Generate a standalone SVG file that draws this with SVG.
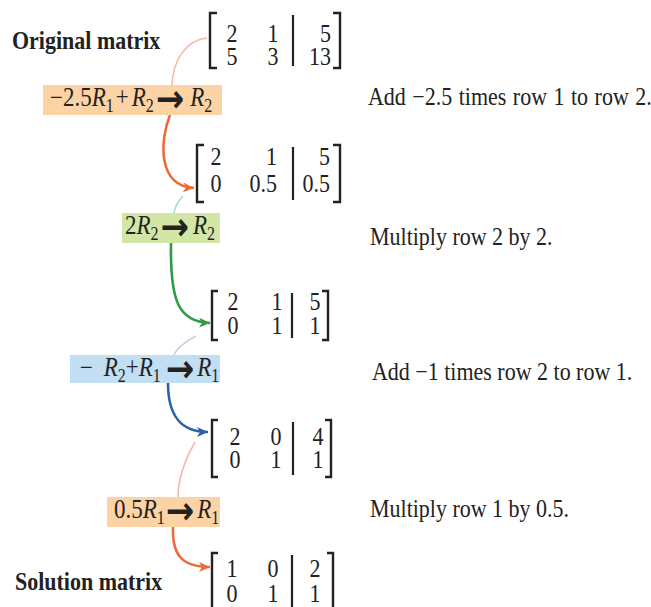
<svg xmlns="http://www.w3.org/2000/svg" width="651" height="607" viewBox="0 0 651 607">
<defs>
<style>
.t{font-family:"Liberation Serif","Times New Roman",serif;font-size:22px;fill:#222222}
.lb{font-size:23px}
.b{font-weight:bold}
.i{font-style:italic}
.s{font-size:16px}
.ar{font-family:"DejaVu Sans",sans-serif;font-weight:bold;font-size:34px}
.m{text-anchor:middle}
.e{text-anchor:end}
.bk{fill:none;stroke:#222222;stroke-width:2.4}
.bar{stroke:#222222;stroke-width:2.2}
.faint{fill:none;stroke-width:1.6}
.arr{fill:none;stroke-width:2.6}
</style>
<marker id="hOr" markerUnits="userSpaceOnUse" markerWidth="12" markerHeight="10" refX="11" refY="5" orient="auto"><path d="M0,0L11,5L0,10L3,5z" fill="#ee6a3a"/></marker>
<marker id="hGr" markerUnits="userSpaceOnUse" markerWidth="12" markerHeight="10" refX="11" refY="5" orient="auto"><path d="M0,0L11,5L0,10L3,5z" fill="#2f9a48"/></marker>
<marker id="hBl" markerUnits="userSpaceOnUse" markerWidth="12" markerHeight="10" refX="11" refY="5" orient="auto"><path d="M0,0L11,5L0,10L3,5z" fill="#2a62a4"/></marker>
</defs>
<rect width="651" height="607" fill="#ffffff"/>

<g id="connectors">
<path class="faint" stroke="#f6b9a6" d="M207,38C186,40 173,60 172,85"/>
<path class="arr" stroke="#ee6a3a" marker-end="url(#hOr)" d="M170,115C160,140 157,186 194,188"/>
<path class="faint" stroke="#a9dbc6" d="M183,196C178,201 175,207 174,213"/>
<path class="arr" stroke="#2f9a48" marker-end="url(#hGr)" d="M171,243C170,300 178,322 210,323"/>
<path class="faint" stroke="#c4cfe2" d="M196,336C186,341 176,349 174,355"/>
<path class="arr" stroke="#2a62a4" marker-end="url(#hBl)" d="M168,383C168,415 180,432 208,432"/>
<path class="faint" stroke="#f4b8b6" d="M195,442C185,460 178,480 178,497"/>
<path class="arr" stroke="#ee6a3a" marker-end="url(#hOr)" d="M173,527C172,555 182,567 210,567"/>
</g>

<g id="label-original">
<text class="t b" transform="translate(12,49) scale(1,1.15)">Original matrix</text>
</g>
<g id="label-solution">
<text class="t b" transform="translate(15,590) scale(1,1.15)">Solution matrix</text>
</g>

<g id="m1">
<path class="bk" d="M217,13H210V68H217"/>
<path class="bk" d="M333,13H340V68H333"/>
<line class="bar" x1="293" y1="15" x2="293" y2="66"/>
<text class="t m" transform="translate(232,42) scale(1,1.15)">2</text>
<text class="t m" transform="translate(273,42) scale(1,1.15)">1</text>
<text class="t e" transform="translate(331,42) scale(1,1.15)">5</text>
<text class="t m" transform="translate(232,65) scale(1,1.15)">5</text>
<text class="t m" transform="translate(273,65) scale(1,1.15)">3</text>
<text class="t e" transform="translate(331,65) scale(1,1.15)">13</text>
</g>

<g id="op1">
<rect x="43" y="85" width="179" height="30" fill="#fbd3a4"/>
<text class="t lb" transform="translate(50,106) scale(1,1.15)">−2.5<tspan class="i">R</tspan><tspan class="s" dy="5">1</tspan><tspan dy="-5" dx="2">+</tspan><tspan class="i" dx="3">R</tspan><tspan class="s" dy="5">2</tspan><tspan class="ar" dx="2" dy="0">→</tspan><tspan class="i" dx="6" dy="-5">R</tspan><tspan class="s" dy="5">2</tspan></text>
</g>
<g id="desc1"><text class="t" word-spacing="1" transform="translate(368,105) scale(1,1.15)">Add −2.5 times row 1 to row 2.</text></g>

<g id="m2">
<path class="bk" d="M204,145H197V202H204"/>
<path class="bk" d="M333,145H340V202H333"/>
<line class="bar" x1="293" y1="147" x2="293" y2="200"/>
<text class="t m" transform="translate(216,165) scale(1,1.15)">2</text>
<text class="t e" transform="translate(277,165) scale(1,1.15)">1</text>
<text class="t e" transform="translate(330,165) scale(1,1.15)">5</text>
<text class="t m" transform="translate(216,192) scale(1,1.15)">0</text>
<text class="t e" transform="translate(277,192) scale(1,1.15)">0.5</text>
<text class="t e" transform="translate(330,192) scale(1,1.15)">0.5</text>
</g>

<g id="op2">
<rect x="122" y="213" width="98" height="30" fill="#d4e6a6"/>
<text class="t lb" transform="translate(125,234) scale(1,1.15)">2<tspan class="i">R</tspan><tspan class="s" dy="5">2</tspan><tspan class="ar" dx="2" dy="0">→</tspan><tspan class="i" dx="4" dy="-5">R</tspan><tspan class="s" dy="5">2</tspan></text>
</g>
<g id="desc2"><text class="t" transform="translate(370,245) scale(1,1.15)">Multiply row 2 by 2.</text></g>

<g id="m3">
<path class="bk" d="M218,291H212V340H218"/>
<path class="bk" d="M322,291H328V340H322"/>
<line class="bar" x1="292" y1="293" x2="292" y2="338"/>
<text class="t m" transform="translate(233,310) scale(1,1.15)">2</text>
<text class="t m" transform="translate(277,310) scale(1,1.15)">1</text>
<text class="t m" transform="translate(315,310) scale(1,1.15)">5</text>
<text class="t m" transform="translate(233,334) scale(1,1.15)">0</text>
<text class="t m" transform="translate(277,334) scale(1,1.15)">1</text>
<text class="t m" transform="translate(315,334) scale(1,1.15)">1</text>
</g>

<g id="op3">
<rect x="70" y="355" width="150" height="28" fill="#c1def3"/>
<text class="t lb" transform="translate(80,376) scale(1,1.15)">− <tspan class="i" dx="5">R</tspan><tspan class="s" dy="5">2</tspan><tspan dy="-5">+</tspan><tspan class="i">R</tspan><tspan class="s" dy="5">1</tspan><tspan class="ar" dx="5" dy="0">→</tspan><tspan class="i" dx="3" dy="-5">R</tspan><tspan class="s" dy="5">1</tspan></text>
</g>
<g id="desc3"><text class="t" transform="translate(372,380) scale(1,1.15)">Add −1 times row 2 to row 1.</text></g>

<g id="m4">
<path class="bk" d="M218,420H212V477H218"/>
<path class="bk" d="M325,420H331V477H325"/>
<line class="bar" x1="293" y1="422" x2="293" y2="475"/>
<text class="t m" transform="translate(235,445) scale(1,1.15)">2</text>
<text class="t m" transform="translate(276,445) scale(1,1.15)">0</text>
<text class="t m" transform="translate(318,445) scale(1,1.15)">4</text>
<text class="t m" transform="translate(235,468) scale(1,1.15)">0</text>
<text class="t m" transform="translate(276,468) scale(1,1.15)">1</text>
<text class="t m" transform="translate(318,468) scale(1,1.15)">1</text>
</g>

<g id="op4">
<rect x="107" y="497" width="113" height="30" fill="#fbd3a4"/>
<text class="t lb" transform="translate(114,518) scale(1,1.15)">0.5<tspan class="i">R</tspan><tspan class="s" dy="5">1</tspan><tspan class="ar" dx="1" dy="0">→</tspan><tspan class="i" dx="3" dy="-5">R</tspan><tspan class="s" dy="5">1</tspan></text>
</g>
<g id="desc4"><text class="t" transform="translate(370,517) scale(1,1.15)">Multiply row 1 by 0.5.</text></g>

<g id="m5">
<path class="bk" d="M218,553H212V612H218"/>
<path class="bk" d="M327,553H333V612H327"/>
<line class="bar" x1="292" y1="555" x2="292" y2="610"/>
<text class="t m" transform="translate(232,577) scale(1,1.15)">1</text>
<text class="t m" transform="translate(273,577) scale(1,1.15)">0</text>
<text class="t m" transform="translate(315,577) scale(1,1.15)">2</text>
<text class="t m" transform="translate(232,602) scale(1,1.15)">0</text>
<text class="t m" transform="translate(273,602) scale(1,1.15)">1</text>
<text class="t m" transform="translate(315,602) scale(1,1.15)">1</text>
</g>
</svg>
